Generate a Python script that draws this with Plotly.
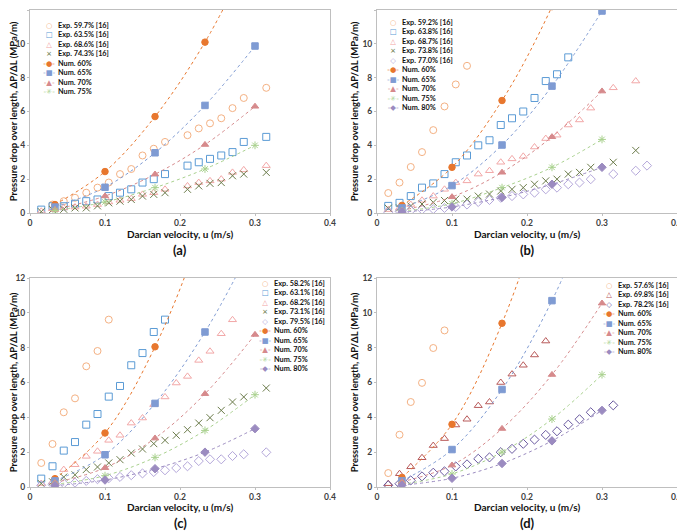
import plotly.graph_objects as go
from plotly.subplots import make_subplots

# --- data ---
# numerical points (same velocities in every panel)
num_x = [0.0333, 0.1, 0.1667, 0.2333, 0.3]

# (a)
a_exp597_x = [0.03, 0.045, 0.06, 0.075, 0.09, 0.105, 0.12, 0.135, 0.15, 0.165, 0.18, 0.21, 0.225, 0.24, 0.255, 0.27, 0.285, 0.315]
a_exp597_y = [0.5, 0.7, 0.9, 1.2, 1.5, 1.8, 2.3, 2.6, 3.4, 3.8, 4.2, 4.6, 5.0, 5.3, 5.6, 6.2, 6.8, 7.4]
a_exp635_x = [0.015, 0.03, 0.045, 0.06, 0.075, 0.09, 0.105, 0.12, 0.135, 0.15, 0.165, 0.18, 0.21, 0.225, 0.24, 0.255, 0.27, 0.285, 0.315]
a_exp635_y = [0.2, 0.4, 0.4, 0.55, 0.7, 0.8, 1.0, 1.2, 1.4, 1.8, 2.0, 2.3, 2.8, 3.0, 3.2, 3.4, 3.6, 4.2, 4.5]
a_exp686_x = [0.015, 0.03, 0.045, 0.06, 0.075, 0.09, 0.105, 0.12, 0.135, 0.15, 0.165, 0.18, 0.21, 0.225, 0.24, 0.255, 0.27, 0.285, 0.315]
a_exp686_y = [0.1, 0.25, 0.3, 0.35, 0.4, 0.5, 0.65, 0.75, 0.85, 1.1, 1.2, 1.4, 1.6, 1.8, 1.9, 2.0, 2.4, 2.55, 2.8]
a_exp743_x = [0.015, 0.03, 0.045, 0.06, 0.075, 0.09, 0.105, 0.12, 0.135, 0.15, 0.165, 0.18, 0.21, 0.225, 0.24, 0.255, 0.27, 0.285, 0.315]
a_exp743_y = [0.08, 0.2, 0.22, 0.3, 0.3, 0.42, 0.6, 0.7, 0.8, 1.0, 1.1, 1.2, 1.4, 1.6, 1.75, 1.8, 2.2, 2.3, 2.4]
a_num60 = [0.5, 2.45, 5.7, 10.1, 15.8]
a_num65 = [0.35, 1.52, 3.56, 6.36, 9.87]
a_num70 = [0.2, 1.0, 2.29, 4.04, 6.3]
a_num75 = [0.15, 0.65, 1.5, 2.6, 4.0]

# (b)
b_exp592_x = [0.015, 0.03, 0.045, 0.06, 0.075, 0.09, 0.105, 0.12]
b_exp592_y = [1.18, 1.8, 2.72, 3.6, 4.9, 6.3, 7.6, 8.7]
b_exp638_x = [0.015, 0.03, 0.045, 0.06, 0.075, 0.09, 0.105, 0.12, 0.135, 0.15, 0.165, 0.18, 0.195, 0.21, 0.225, 0.24, 0.255]
b_exp638_y = [0.42, 0.6, 1.0, 1.5, 1.75, 2.3, 3.0, 3.4, 4.0, 4.3, 5.2, 5.6, 6.0, 6.8, 7.8, 8.2, 9.2]
b_exp687_x = [0.015, 0.03, 0.045, 0.06, 0.075, 0.09, 0.105, 0.12, 0.135, 0.15, 0.165, 0.18, 0.195, 0.21, 0.225, 0.24, 0.255, 0.27, 0.285, 0.315, 0.345]
b_exp687_y = [0.2, 0.3, 0.5, 0.75, 1.0, 1.4, 1.8, 1.9, 2.3, 2.5, 3.0, 3.2, 3.35, 3.9, 4.4, 4.6, 5.2, 5.5, 6.2, 7.4, 7.8]
b_exp738_x = [0.015, 0.03, 0.045, 0.06, 0.075, 0.09, 0.105, 0.12, 0.135, 0.15, 0.165, 0.18, 0.195, 0.21, 0.225, 0.24, 0.255, 0.27, 0.285, 0.315, 0.345]
b_exp738_y = [0.28, 0.3, 0.42, 0.53, 0.63, 0.74, 0.82, 0.82, 1.0, 1.12, 1.3, 1.4, 1.5, 1.7, 1.9, 2.0, 2.3, 2.4, 2.7, 3.0, 3.7]
b_exp770_x = [0.015, 0.03, 0.045, 0.06, 0.075, 0.09, 0.105, 0.12, 0.135, 0.15, 0.165, 0.18, 0.195, 0.21, 0.225, 0.24, 0.255, 0.27, 0.285, 0.315, 0.345, 0.36]
b_exp770_y = [0.05, 0.1, 0.15, 0.2, 0.23, 0.3, 0.36, 0.5, 0.65, 0.77, 0.9, 1.0, 1.1, 1.2, 1.4, 1.5, 1.7, 1.8, 2.0, 2.3, 2.5, 2.8]
b_num60 = [0.45, 2.7, 6.65, 12.2, 19.4]
b_num65 = [0.3, 1.62, 4.02, 7.5, 11.94]
b_num70 = [0.15, 0.95, 2.4, 4.5, 7.2]
b_num75 = [0.1, 0.55, 1.5, 2.7, 4.35]
b_num80 = [0.05, 0.36, 0.92, 1.7, 2.7]

# (c)
c_exp582_x = [0.015, 0.03, 0.045, 0.06, 0.075, 0.09, 0.105]
c_exp582_y = [1.38, 2.47, 4.29, 5.09, 6.93, 7.81, 9.61]
c_exp631_x = [0.015, 0.03, 0.045, 0.06, 0.075, 0.09, 0.105, 0.12, 0.135, 0.15, 0.165, 0.18]
c_exp631_y = [0.48, 1.19, 2.09, 2.58, 3.58, 4.19, 5.19, 5.8, 6.99, 7.69, 8.9, 9.61]
c_exp682_x = [0.015, 0.03, 0.045, 0.06, 0.075, 0.09, 0.105, 0.12, 0.135, 0.15, 0.165, 0.18, 0.195, 0.21, 0.225, 0.24, 0.255, 0.27]
c_exp682_y = [0.2, 0.3, 1.0, 1.28, 1.76, 2.05, 2.68, 2.97, 3.67, 3.96, 4.73, 5.17, 5.97, 6.35, 7.27, 7.79, 8.8, 9.6]
c_exp731_x = [0.015, 0.03, 0.045, 0.06, 0.075, 0.09, 0.105, 0.12, 0.135, 0.15, 0.165, 0.18, 0.195, 0.21, 0.225, 0.24, 0.255, 0.27, 0.285, 0.315]
c_exp731_y = [0.2, 0.3, 0.57, 0.7, 1.0, 1.15, 1.38, 1.57, 1.95, 2.18, 2.49, 2.68, 2.97, 3.29, 3.67, 3.98, 4.4, 4.88, 5.17, 5.68]
c_exp795_x = [0.015, 0.03, 0.045, 0.06, 0.075, 0.09, 0.105, 0.12, 0.135, 0.15, 0.165, 0.18, 0.195, 0.21, 0.225, 0.24, 0.255, 0.27, 0.285, 0.315]
c_exp795_y = [0.1, 0.15, 0.2, 0.25, 0.35, 0.45, 0.5, 0.58, 0.68, 0.78, 0.86, 0.96, 1.09, 1.19, 1.49, 1.59, 1.59, 1.78, 1.88, 1.99]
c_num60 = [0.48, 3.1, 8.05, 15.3, 24.9]
c_num65 = [0.35, 1.85, 4.8, 8.9, 14.2]
c_num70 = [0.25, 1.1, 2.8, 5.35, 8.75]
c_num75 = [0.15, 0.65, 1.7, 3.25, 5.3]
c_num80 = [0.08, 0.4, 1.05, 2.0, 3.35]

# (d)
d_exp576_x = [0.015, 0.03, 0.045, 0.06, 0.075, 0.09]
d_exp576_y = [0.8, 3.0, 4.88, 5.98, 7.98, 8.99]
d_exp698_x = [0.015, 0.03, 0.045, 0.06, 0.075, 0.09, 0.105, 0.12, 0.135, 0.15, 0.165, 0.18, 0.195, 0.21, 0.225]
d_exp698_y = [0.19, 0.76, 1.16, 1.68, 2.38, 2.78, 3.56, 3.89, 4.67, 4.88, 6.0, 6.48, 6.99, 7.58, 8.38]
d_exp782_x = [0.015, 0.03, 0.045, 0.06, 0.075, 0.09, 0.105, 0.12, 0.135, 0.15, 0.165, 0.18, 0.195, 0.21, 0.225, 0.24, 0.255, 0.27, 0.285, 0.315]
d_exp782_y = [0.1, 0.19, 0.38, 0.61, 0.82, 0.9, 1.18, 1.3, 1.62, 1.7, 2.0, 2.19, 2.48, 2.72, 2.99, 3.2, 3.58, 3.89, 4.29, 4.69]
d_num60 = [0.55, 3.6, 9.4, 17.95, 29.25]
d_num65 = [0.35, 2.15, 5.6, 10.7, 17.45]
d_num70 = [0.3, 1.25, 3.35, 6.45, 10.55]
d_num75 = [0.15, 0.75, 2.0, 3.9, 6.45]
d_num80 = [0.1, 0.5, 1.35, 2.65, 4.4]

# --- styles ---
EXP = {  # symbol, colour, glyph for the legend
    "o": ("circle-open", "#F4B183", "○"),
    "s": ("square-open", "#5B9BD5", "□"),
    "t": ("triangle-up-open", "#F2A7A7", "△"),
    "T": ("triangle-up-open", "#B85A5A", "△"),
    "x": ("x-thin-open", "#6B7B4A", "×"),
    "d": ("diamond-open", "#B4A7DA", "◇"),
    "D": ("diamond-open", "#6A5AA0", "◇"),
}
NUM = {
    "60": ("circle", "#E8772E", "●"),
    "65": ("square", "#7F9BD3", "■"),
    "70": ("triangle-up", "#D68A8C", "▲"),
    "75": ("asterisk-open", "#A9D18E", "✳"),
    "80": ("diamond", "#9B8BC0", "◆"),
}

# leg = (x of key column, y of first legend row), in page pixels
panels = [
    dict(row=1, col=1, tag="(a)",
         exp=[("o", "Exp. 59.7% [16]", a_exp597_x, a_exp597_y),
              ("s", "Exp. 63.5% [16]", a_exp635_x, a_exp635_y),
              ("t", "Exp. 68.6% [16]", a_exp686_x, a_exp686_y),
              ("x", "Exp. 74.3% [16]", a_exp743_x, a_exp743_y)],
         num=[("60", a_num60), ("65", a_num65), ("70", a_num70), ("75", a_num75)],
         leg=(49, 25)),
    dict(row=1, col=2, tag="(b)",
         exp=[("o", "Exp. 59.2% [16]", b_exp592_x, b_exp592_y),
              ("s", "Exp. 63.8% [16]", b_exp638_x, b_exp638_y),
              ("t", "Exp. 68.7% [16]", b_exp687_x, b_exp687_y),
              ("x", "Exp. 73.8% [16]", b_exp738_x, b_exp738_y),
              ("d", "Exp. 77.0% [16]", b_exp770_x, b_exp770_y)],
         num=[("60", b_num60), ("65", b_num65), ("70", b_num70), ("75", b_num75), ("80", b_num80)],
         leg=(393, 22)),
    dict(row=2, col=1, tag="(c)",
         exp=[("o", "Exp. 58.2% [16]", c_exp582_x, c_exp582_y),
              ("s", "Exp. 63.1% [16]", c_exp631_x, c_exp631_y),
              ("t", "Exp. 68.2% [16]", c_exp682_x, c_exp682_y),
              ("x", "Exp. 73.1% [16]", c_exp731_x, c_exp731_y),
              ("d", "Exp. 79.5% [16]", c_exp795_x, c_exp795_y)],
         num=[("60", c_num60), ("65", c_num65), ("70", c_num70), ("75", c_num75), ("80", c_num80)],
         leg=(265, 283)),
    dict(row=2, col=2, tag="(d)",
         exp=[("o", "Exp. 57.6% [16]", d_exp576_x, d_exp576_y),
              ("T", "Exp. 69.8% [16]", d_exp698_x, d_exp698_y),
              ("D", "Exp. 78.2% [16]", d_exp782_x, d_exp782_y)],
         num=[("60", d_num60), ("65", d_num65), ("70", d_num70), ("75", d_num75), ("80", d_num80)],
         leg=(609, 285)),
]

# the page has an 8 px body margin, so the figure is 8 px smaller and
# page pixel positions are shifted by that much
OFF = 8
W, H = 685 - OFF, 532 - OFF
FONT = "Lato"
LEG_SIZE = 7.3
ROW = 1.3 * LEG_SIZE  # plotly line height for <br>


def px(x):
    return (x - OFF) / W


def py(y):
    return 1 - (y - OFF) / H


fig = make_subplots(rows=2, cols=2)

for p in panels:
    keys, labels = [], []
    for k, name, xs, ys in p["exp"]:
        sym, col, glyph = EXP[k]
        fig.add_trace(go.Scatter(
            x=xs, y=ys, mode="markers", name=name,
            marker=dict(symbol=sym, size=7, color=col, line=dict(width=1, color=col)),
        ), row=p["row"], col=p["col"])
        keys.append(f"<span style='color:{col}'>{glyph}</span>")
        labels.append(name)
    for k, ys in p["num"]:
        sym, col, glyph = NUM[k]
        fig.add_trace(go.Scatter(
            x=num_x, y=ys, mode="lines+markers", name=f"Num. {k}%",
            line=dict(color=col, width=1, dash="dot", shape="spline"),
            marker=dict(symbol=sym, size=6.5, color=col, line=dict(width=1, color=col)),
        ), row=p["row"], col=p["col"])
        keys.append(f"<span style='color:{col}'>-{glyph}-</span>")
        labels.append(f"Num. {k}%")

    # compact legend, written as text (key column + label column)
    lx, ly = p["leg"]
    mid = ly + (len(labels) - 1) * ROW / 2
    fig.add_annotation(x=px(lx), y=py(mid), xref="paper", yref="paper",
                       xanchor="center", yanchor="middle", align="center", showarrow=False,
                       text="<br>".join(keys), font=dict(size=LEG_SIZE, family="DejaVu Sans"))
    fig.add_annotation(x=px(lx + 7), y=py(mid), xref="paper", yref="paper",
                       xanchor="left", yanchor="middle", align="left", showarrow=False,
                       text="<br>".join(labels),
                       font=dict(size=LEG_SIZE, family=FONT, color="#111", weight="bold"))

# panel positions in page pixels
dom_x = {1: (30, 330), 2: (377, 677)}
dom_y = {1: (10, 213), 2: (278, 487)}
title_y = {1: 234, 2: 507}
tag_y = {1: 250, 2: 523}

for p in panels:
    r, c = p["row"], p["col"]
    x0, x1 = dom_x[c]
    y0, y1 = dom_y[r]
    fig.update_xaxes(domain=[px(x0), px(x1)], range=[0, 0.4], row=r, col=c)
    fig.update_yaxes(domain=[py(y1), py(y0)], range=[0, 12], dtick=2, row=r, col=c)
    cx = px((x0 + x1) / 2)
    # x-axis title and panel tag under each plot
    fig.add_annotation(x=cx, y=py(title_y[r]), xref="paper", yref="paper",
                       xanchor="center", yanchor="middle", showarrow=False,
                       text="Darcian velocity, u (m/s)",
                       font=dict(size=10, family=FONT, color="#111", weight="bold"))
    fig.add_annotation(x=cx, y=py(tag_y[r]), xref="paper", yref="paper",
                       xanchor="center", yanchor="middle", text=p["tag"], showarrow=False,
                       font=dict(size=13, family=FONT, color="#111", weight="bold"))

fig.update_xaxes(
    showgrid=False, zeroline=False, showline=True, mirror=True, linecolor="#BFBFBF",
    ticks="outside", ticklen=2, tickcolor="#BFBFBF", automargin=False,
    tickvals=[0, 0.1, 0.2, 0.3, 0.4], ticktext=["0", "0.1", "0.2", "0.3", "0.4"],
    tickfont=dict(size=8.5, family=FONT, color="#404040", weight="bold"),
)
fig.update_yaxes(
    showgrid=False, zeroline=False, showline=True, mirror=True, linecolor="#BFBFBF",
    ticks="outside", ticklen=2, tickcolor="#BFBFBF", automargin=False,
    tickfont=dict(size=8.5, family=FONT, color="#404040", weight="bold"),
    title=dict(text="Pressure drop over length, ΔP/ΔL (MPa/m)", standoff=2,
               font=dict(size=9.5, family=FONT, color="#111", weight="bold")),
)

fig.update_layout(
    width=W, height=H, showlegend=False,
    margin=dict(l=0, r=0, t=0, b=0),
    paper_bgcolor="white", plot_bgcolor="white",
    font=dict(family=FONT),
)

fig.write_html("out.html")
